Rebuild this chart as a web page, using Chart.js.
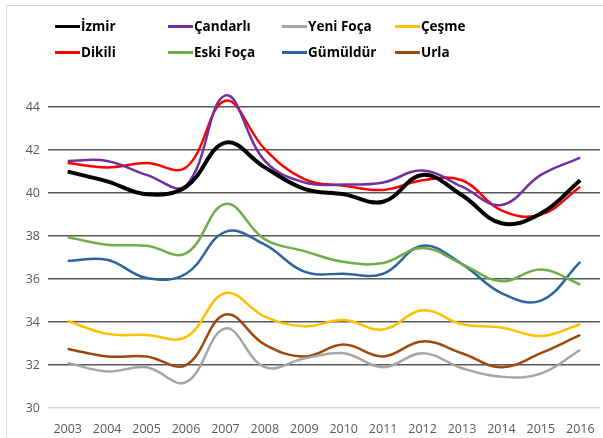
<!DOCTYPE html>
<html>
<head>
<meta charset="utf-8">
<script src="https://cdn.jsdelivr.net/npm/chart.js@4"></script>
<style>
  html, body { margin: 0; padding: 0; background: #fff; }
  #wrap { position: relative; width: 603px; height: 438px; overflow: hidden; }
  #frame { position: absolute; left: 6px; top: 5px; width: 620px; height: 460px; border: 1px solid #d9d9d9; box-sizing: border-box; }
  #legend { position: absolute; left: 55px; top: 16px; display: grid; grid-template-columns: 113px 114px 113px 113px; row-gap: 6px; font-family: "Open Sans", sans-serif; font-weight: bold; font-size: 13.5px; color: #000; }
  #legend div { display: flex; align-items: center; height: 20px; white-space: nowrap; }
  #legend span.sw { display: inline-block; width: 25px; height: 3px; margin-right: 1px; }
  canvas { position: absolute; left: 0; top: 0; }
</style>
</head>
<body>
<div id="wrap">
  <div id="frame"></div>
  <canvas id="c" width="603" height="438"></canvas>
  <div id="legend"></div>
</div>
<script>
// Years along the x axis
const years = ['2003', '2004', '2005', '2006', '2007', '2008', '2009', '2010', '2011', '2012', '2013', '2014', '2015', '2016'];

// Series values
const izmir    = [41.0, 40.55, 39.95, 40.3, 42.35, 41.2, 40.2, 39.95, 39.6, 40.85, 39.9, 38.6, 39.05, 40.6];
const candarli = [41.5, 41.5, 40.85, 40.35, 44.55, 41.5, 40.5, 40.4, 40.5, 41.05, 40.3, 39.45, 40.85, 41.65];
const yeniFoca = [32.1, 31.7, 31.9, 31.2, 33.7, 31.9, 32.3, 32.55, 31.9, 32.55, 31.85, 31.45, 31.6, 32.7];
const cesme    = [34.05, 33.45, 33.4, 33.3, 35.35, 34.25, 33.8, 34.1, 33.65, 34.55, 33.9, 33.75, 33.35, 33.9];
const dikili   = [41.4, 41.2, 41.4, 41.2, 44.3, 42.05, 40.65, 40.35, 40.15, 40.6, 40.6, 39.2, 39.0, 40.3];
const eskiFoca = [37.95, 37.6, 37.55, 37.2, 39.5, 37.85, 37.3, 36.8, 36.75, 37.45, 36.7, 35.9, 36.45, 35.75];
const gumuldur = [36.85, 36.9, 36.05, 36.25, 38.2, 37.6, 36.35, 36.25, 36.25, 37.55, 36.7, 35.35, 35.0, 36.8];
const urla     = [32.75, 32.4, 32.4, 32.0, 34.35, 32.95, 32.4, 32.95, 32.4, 33.1, 32.55, 31.9, 32.55, 33.4];

// Y axis tick labels
const yTicks = [30, 32, 34, 36, 38, 40, 42, 44];

const series = [
    { label: 'İzmir', data: izmir, color: '#000000', width: 4 },
    { label: 'Çandarlı', data: candarli, color: '#7030A0', width: 2.5 },
    { label: 'Yeni Foça', data: yeniFoca, color: '#A5A5A5', width: 2.5 },
    { label: 'Çeşme', data: cesme, color: '#FFC000', width: 2.5 },
    { label: 'Dikili', data: dikili, color: '#FF0000', width: 2.5 },
    { label: 'Eski Foça', data: eskiFoca, color: '#70AD47', width: 2.5 },
    { label: 'Gümüldür', data: gumuldur, color: '#2E65A0', width: 2.5 },
    { label: 'Urla', data: urla, color: '#9E480E', width: 2.5 }
];

// Legend in a 4 column grid
const legendEl = document.getElementById('legend');
series.forEach(function(s) {
    const item = document.createElement('div');
    item.innerHTML = '<span class="sw" style="background:' + s.color + '"></span>' + s.label;
    legendEl.appendChild(item);
});

const ctx = document.getElementById('c').getContext('2d');
const chart = new Chart(ctx, {
    type: 'line',
    data: {
        labels: years,
        datasets: series.map(function(s) {
            return {
                label: s.label,
                data: s.data,
                borderColor: s.color,
                backgroundColor: s.color,
                borderWidth: s.width,
                pointRadius: 0,
                tension: 0.4,
                fill: false
            };
        })
    },
    options: {
        responsive: false,
        animation: false,
        layout: { padding: { top: 75, right: 3, left: 0, bottom: 0 } },
        plugins: {
            legend: { display: false },
            tooltip: { enabled: false }
        },
        scales: {
            x: {
                offset: true,
                grid: { display: false },
                border: { display: false },
                ticks: {
                    color: '#595959',
                    font: { family: 'Open Sans', size: 12.5 },
                    maxRotation: 0,
                    padding: 6
                },
                afterFit: function(scale) { scale.height = 30; }
            },
            y: {
                min: 30,
                max: 45.5,
                border: { display: false },
                afterBuildTicks: function(scale) {
                    scale.ticks = yTicks.map(function(v) { return { value: v }; });
                },
                grid: {
                    color: function(c) { return c.tick && c.tick.value === 30 ? '#d9d9d9' : '#595959'; },
                    lineWidth: 1.5,
                    drawTicks: false
                },
                ticks: {
                    color: '#595959',
                    font: { family: 'Open Sans', size: 12.5 },
                    padding: 8
                },
                afterFit: function(scale) { scale.width = 48; }
            }
        }
    }
});
</script>
</body>
</html>
